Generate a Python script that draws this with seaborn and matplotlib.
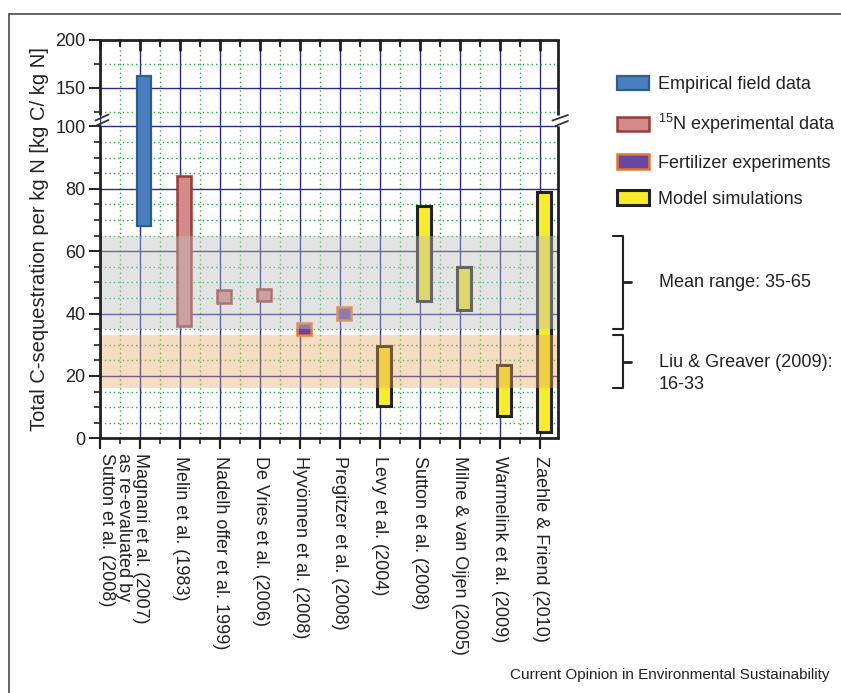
import numpy as np
import pandas as pd
import matplotlib
matplotlib.use("Agg")
import matplotlib.pyplot as plt
import matplotlib.transforms as mtransforms
from matplotlib.lines import Line2D
from matplotlib.patches import Patch
import seaborn as sns

# ---- data -------------------------------------------------------------
studies = [
    "Magnani et al. (2007)\nas re-evaluated by\nSutton et al. (2008)",
    "Melin et al. (1983)",
    "Nadelh offer et al. 1999)",
    "De Vries et al. (2006)",
    "Hyvönnen et al. (2008)",
    "Pregitzer et al. (2008)",
    "Levy et al. (2004)",
    "Sutton et al. (2008)",
    "Milne & van Oijen (2005)",
    "Warmelink et al. (2009)",
    "Zaehle & Friend (2010)",
]
data_type = ["empirical", "15N", "15N", "15N", "fertilizer", "fertilizer",
             "model", "model", "model", "model", "model"]
range_low = [68, 36, 43.5, 44, 33, 38, 10.5, 44, 41, 7, 2]
range_high = [162, 84, 47.5, 48, 37, 42, 29.5, 74.5, 55, 23.5, 79]

type_order = ["empirical", "15N", "fertilizer", "model"]
type_labels = ["Empirical field data", r"$\mathregular{^{15}}$N experimental data",
               "Fertilizer experiments", "Model simulations"]
type_face = ["#4a7fbf", "#d38b8b", "#6a46a3", "#f7ec2a"]
type_edge = ["#2e5c8c", "#9b3b3b", "#e8742c", "#222222"]
type_lw = [1.6, 1.8, 1.8, 2.2]

mean_range = [35, 65]
liu_greaver = [16, 33]

y_major = [0, 20, 40, 60, 80, 100, 150, 200]
y_minor = [5, 10, 15, 25, 30, 35, 45, 50, 55, 65, 70, 75, 85, 90, 95, 125, 175]

df = pd.DataFrame({"study": studies, "type": data_type,
                   "low": range_low, "high": range_high})
df["pos"] = np.arange(1, len(df) + 1)

# ---- style ------------------------------------------------------------
sns.set_theme(style="white")
plt.rcParams["font.family"] = ["Liberation Sans", "DejaVu Sans"]
plt.rcParams["mathtext.fontset"] = "custom"
plt.rcParams["mathtext.rm"] = "Liberation Sans"
plt.rcParams["text.color"] = "#222222"
plt.rcParams["axes.labelcolor"] = "#222222"
plt.rcParams["xtick.color"] = "#222222"
plt.rcParams["ytick.color"] = "#222222"

W, H = 841, 693
fig = plt.figure(figsize=(W / 100, H / 100), dpi=100)


def fx(px):
    return px / W


def fy(py):
    return 1 - py / H


ax_l, ax_r, ax_t, ax_b = 100, 558, 40, 438.3
ax = fig.add_axes([fx(ax_l), fy(ax_b), fx(ax_r - ax_l), (ax_b - ax_t) / H])

# broken y axis: 0-100 linear, then a compressed 110-200 segment
BREAK_LO, BREAK_HI, UPPER_SLOPE = 100.0, 110.0, 0.307


def fwd(v):
    v = np.asarray(v, dtype=float)
    return np.where(v <= BREAK_LO, v,
                    np.where(v <= BREAK_HI, BREAK_LO + (v - BREAK_LO) * 0.01,
                             BREAK_LO + 0.1 + (v - BREAK_HI) * UPPER_SLOPE))


def inv(u):
    u = np.asarray(u, dtype=float)
    return np.where(u <= BREAK_LO, u,
                    np.where(u <= BREAK_LO + 0.1, BREAK_LO + (u - BREAK_LO) / 0.01,
                             BREAK_HI + (u - BREAK_LO - 0.1) / UPPER_SLOPE))


ax.set_yscale("function", functions=(fwd, inv))
ax.set_ylim(0, 200)
ax.set_xlim(0, 11.45)

x_major = np.arange(0, 12)
x_minor = np.arange(0.5, 11, 1.0)

# grid
ax.set_axisbelow(True)
ax.set_yticks(y_major)
ax.set_yticks(y_minor, minor=True)
ax.set_xticks(x_major)
ax.set_xticks(x_minor, minor=True)
ax.grid(which="major", color="#2b2b8f", lw=1.0, ls="-")
ax.grid(which="minor", color="#1fae3c", lw=1.0, ls=(0, (1, 2.2)))

# floating range bars
bar_offset, bar_width = 0.1, 0.34
for i, t in enumerate(type_order):
    sub = df[df["type"] == t]
    ax.bar(sub["pos"] + bar_offset, sub["high"] - sub["low"], bottom=sub["low"],
           width=bar_width, color=type_face[i], edgecolor=type_edge[i],
           linewidth=type_lw[i], zorder=2)

# shaded reference bands
ax.axhspan(mean_range[0], mean_range[1], color="#bfbfbf", alpha=0.43, lw=0, zorder=2.5)
ax.axhspan(liu_greaver[0], liu_greaver[1], color="#e6aa64", alpha=0.4, lw=0, zorder=2.5)

# ticks and labels
ax.set_yticklabels([str(v) for v in y_major])
ax.tick_params(axis="y", which="major", direction="out", length=8, width=1.4,
               labelsize=13, pad=2.5, left=True, right=False)
ax.tick_params(axis="y", which="minor", direction="out", length=4, width=1.2,
               left=True, right=False)
ax.tick_params(axis="x", which="major", direction="out", length=8, width=1.6,
               bottom=True, top=False, labelsize=13, pad=4.8)
ax.tick_params(axis="x", which="minor", direction="out", length=4, width=1.2,
               bottom=True, top=False)
xlabels = [""] + [""] + list(df["study"].iloc[1:])
ax.set_xticklabels(xlabels, rotation=270, va="top", ha="center")

first_lbl = mtransforms.offset_copy(ax.get_xaxis_transform(), fig=fig,
                                    x=-16.5, y=-14.7, units="dots")
ax.text(df["pos"].iloc[0], 0, df["study"].iloc[0], transform=first_lbl,
        rotation=270, ha="center", va="top", multialignment="left",
        linespacing=1.02, fontsize=13)

ax.set_ylabel("Total C-sequestration per kg N [kg C/ kg N]", fontsize=14.5)
ax.yaxis.set_label_coords(-0.112, 0.5)

# inward tick marks along the top edge
xtr = ax.get_xaxis_transform()
ax_h = ax_b - ax_t
for xs, ln, lw in [(x_major, 9.5, 2.0), (x_minor, 5.5, 1.6)]:
    for x in xs:
        ax.add_line(Line2D([x, x], [1, 1 - ln / ax_h], transform=xtr,
                           color="#222222", lw=lw, clip_on=False, zorder=5))

# spines with axis-break gaps
for s in ["left", "right"]:
    ax.spines[s].set_visible(False)
ax.spines["bottom"].set_linewidth(2.0)
ax.spines["bottom"].set_color("#222222")
ax.spines["top"].set_linewidth(2.0)
ax.spines["top"].set_color("#222222")

spine_kw = dict(color="#222222", lw=2.0, transform=fig.transFigure, solid_capstyle="butt")
for xs in (ax_l, ax_r):
    fig.add_artist(Line2D([fx(xs), fx(xs)], [fy(ax_t), fy(115)], **spine_kw))
    fig.add_artist(Line2D([fx(xs), fx(xs)], [fy(126), fy(ax_b)], **spine_kw))

mark_kw = dict(color="#333333", lw=1.3, transform=fig.transFigure)
for (x0, y0, x1, y1) in [(95.5, 120.5, 108.5, 114.5), (95.5, 126, 108.5, 120),
                         (552.5, 120.5, 568, 115), (555.5, 126, 568, 121)]:
    fig.add_artist(Line2D([fx(x0), fx(x1)], [fy(y0), fy(y1)], **mark_kw))

# brackets for the reference ranges
btr = mtransforms.blended_transform_factory(fig.transFigure, ax.transData)
note_tr = mtransforms.offset_copy(btr, fig=fig, y=8, units="dots")
for (lo, hi), txt in [(mean_range, f"Mean range: {mean_range[0]}-{mean_range[1]}"),
                      (liu_greaver, f"Liu & Greaver (2009):\n{liu_greaver[0]}-{liu_greaver[1]}")]:
    mid = float(inv((fwd(lo) + fwd(hi)) / 2))
    ax.plot([fx(613), fx(622.5), fx(622.5), fx(613)], [hi, hi, lo, lo],
            transform=btr, color="#222222", lw=1.5, clip_on=False)
    ax.plot([fx(622.5), fx(631)], [mid, mid], transform=btr,
            color="#222222", lw=2.0, clip_on=False)
    if "\n" in txt:
        ax.text(fx(659), mid, txt, transform=note_tr, ha="left", va="top",
                fontsize=13, linespacing=1.4, clip_on=False)
    else:
        ax.text(fx(659), mid, txt, transform=btr, ha="left", va="center",
                fontsize=13, clip_on=False)

# legend
handles = [Patch(facecolor=type_face[i], edgecolor=type_edge[i], linewidth=type_lw[i])
           for i in range(len(type_order))]
fig.legend(handles, type_labels, loc="upper left",
           bbox_to_anchor=(fx(617), fy(76)), frameon=False, fontsize=13,
           borderpad=0, borderaxespad=0, handlelength=1.75, handleheight=0.85,
           handletextpad=0.5, labelspacing=1.02)

# page frame and source line
frame_kw = dict(color="#4a4a4a", lw=1.2, transform=fig.transFigure)
fig.add_artist(Line2D([fx(9), fx(9)], [fy(14), 0], **frame_kw))
fig.add_artist(Line2D([fx(9), 1], [fy(14), fy(14)], **frame_kw))
fig.text(fx(510.5), fy(675), "Current Opinion in Environmental Sustainability",
         ha="left", va="center", fontsize=11, color="#222222")

fig.savefig("out.png", dpi=100)
